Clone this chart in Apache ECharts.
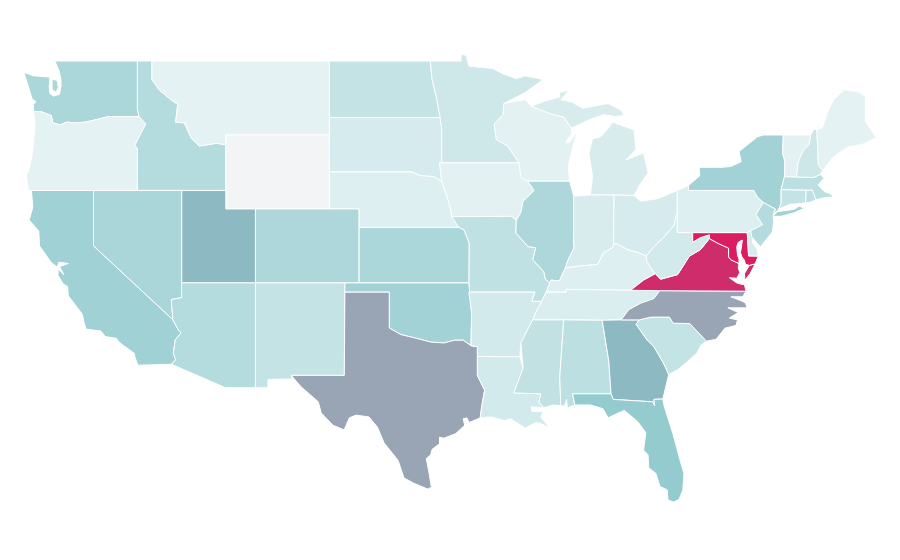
<!DOCTYPE html>
<html><head><meta charset="utf-8">
<style>html,body{margin:0;padding:0;background:#fff}#c{width:900px;height:560px}</style>
<script src="https://cdn.jsdelivr.net/npm/echarts@6/dist/echarts.min.js"></script>
</head><body><div id="c"></div>
<script>
// Values per state (read from the shade of each state)
const stateNames = ['Wyoming','Montana','Oregon','Maine','Iowa','Wisconsin','Vermont','Pennsylvania','Nebraska','Kentucky','Tennessee','Michigan','Indiana','Delaware','South Dakota','Ohio','West Virginia','Arkansas','Louisiana','Minnesota','New Hampshire','North Dakota','South Carolina','New Mexico','Connecticut','Mississippi','Rhode Island','Missouri','Massachusetts','Alabama','Idaho','Arizona','New Jersey','Illinois','Colorado','Washington','Kansas','Nevada','Oklahoma','New York','California','Florida','Georgia','Utah','Texas','North Carolina','Virginia','Maryland'];
const stateValues = [0,10,10,10,11,11,11,15,15,15,17,18,18,18,20,20,21,21,21,24,25,30,30,30,30,32,33,33,35,35,40,40,40,44,44,45,45,46,50,50,52,60,70,70,80,80,90,100];
const colorStops = ['#f3f4f6','#e4f2f4','#d5ebed','#c4e3e5','#b4dbdd','#a3d2d6','#94cbcf','#8db9c2','#99a4b5','#cf2c6c','#dc1c60'];

// Shared borders, [lon, lat]
const rev = a => a.slice().reverse();
const columbia = [[-124.05,46.27],[-123.5,46.26],[-123.2,46.15],[-122.85,46.05],[-122.76,45.65],[-122.25,45.55],[-121.8,45.7],[-121.2,45.65],[-120.5,45.7],[-119.3,45.93],[-118.98,46],[-116.92,46]];
const snake = [[-116.92,46],[-116.46,45.6],[-116.85,45],[-117.2,44.45],[-117.03,44.25],[-117.03,42]];
const idMt = [[-116.05,49],[-116.05,48],[-115.55,47.43],[-114.74,46.9],[-114.3,46.65],[-114.45,45.7],[-113.86,45.65],[-113.4,44.85],[-112.85,44.4],[-111.7,44.55],[-111.05,44.48]];
const river = [[-114.63,35],[-114.27,34.46],[-114.07,34.3],[-114.47,33.92],[-114.6,33.2],[-114.45,32.85],[-114.72,32.6]];
const redRiver = [[-100,34.56],[-99.2,34.2],[-98.3,34.03],[-97.2,33.8],[-96.3,33.75],[-95.6,33.9],[-95,33.9],[-94.47,33.6]];
const sabine = [[-94.04,33.02],[-94.04,32],[-93.55,31.2],[-93.75,30.3],[-93.85,29.7]];
const riverMoKs = [[-95.77,40.58],[-95.3,40],[-94.95,39.87],[-94.6,39.15],[-94.62,37]];
const neIa = [[-96.45,42.5],[-96.1,41.7],[-95.85,41],[-95.77,40.58]];
const wiIa = [[-91.22,43.5],[-91.1,42.7],[-90.64,42.5]];
const ilIa = [[-90.64,42.5],[-90.2,42],[-90.96,41.4],[-91.1,40.8],[-91.42,40.38]];
const ilMo = [[-91.42,40.38],[-91.45,39.7],[-90.6,38.95],[-90.1,38.9],[-90.3,38.25],[-89.55,37.6],[-89.45,37.2],[-89.15,37]];
const arMs = [[-90.3,35],[-90.4,34.85],[-91.1,33.75],[-91.17,33]];
const laMs = [[-91.17,33],[-90.95,32.4],[-91.57,31.05],[-89.75,31],[-89.87,30.55],[-89.55,30.25]];
const ohioIlKy = [[-89.15,37],[-89.05,37.15],[-88.5,37.1],[-88.1,37.8]];
const ohioInKy = [[-88.1,37.8],[-87.25,37.9],[-85.9,38],[-85.5,38.65],[-84.9,38.9],[-84.82,39.1]];
const ohioOhKy = [[-84.82,39.1],[-84.55,39.1],[-83.9,38.8],[-83.2,38.65],[-82.62,38.45]];
const ohioOhWv = [[-82.62,38.45],[-82.1,38.95],[-81.4,39.5],[-80.75,40.1],[-80.6,40.64]];
const ilIn = [[-87.53,41.7],[-87.53,39.35],[-87.5,38.9],[-87.9,38.25],[-88.1,37.8]];
const kyWv = [[-82.62,38.45],[-82.6,38.2],[-82.1,37.55],[-82,37.5]];
const kyVa = [[-82,37.5],[-82.8,37.15],[-83.68,36.6]];
const tnNc = [[-81.7,36.58],[-82.1,36.15],[-83,35.9],[-83.8,35.55],[-84.32,35]];
const vaWv = [[-82,37.5],[-81.65,37.2],[-80.5,37.45],[-79.7,38.45],[-78.95,38.8],[-78.35,39.4]];
const vaMd = [[-78.35,39.4],[-77.8,39.15],[-77.05,38.88],[-77.05,38.4],[-76.9,38.25],[-76.35,38.05]];
const ncSc = [[-83.1,35],[-82.3,35.15],[-81.05,35.15],[-80.8,34.82],[-79.67,34.8],[-78.55,33.85]];
const gaSc = [[-83.1,35],[-83.3,34.75],[-82.55,33.9],[-82.1,33.55],[-81.45,32.65],[-81.1,32.05]];
const wiMn = [[-92.25,46.7],[-92.3,46.1],[-92.9,45.6],[-92.75,44.75],[-92,44.4],[-91.22,43.5]];
const wiMiN = [[-90.4,46.55],[-89.1,46.15],[-88.2,45.97],[-87.7,45.38]];

const shapes = {
 Washington:[[[-122.76,49],[-117.03,49],[-117.03,46.42],...rev(columbia),[-124.07,46.65],[-123.9,46.8],[-124.15,46.95],[-124.4,47.6],[-124.7,48.38],[-124.05,48.2],[-123.1,48.14],[-122.95,48.14],[-123,47.6],[-122.95,47.25],[-122.7,47.1],[-122.3,47.2],[-122.2,47.6],[-122.2,47.97],[-122.3,48.4],[-122.58,48.95]],
  [[-122.8,48.03],[-122.45,47.95],[-122.38,47.55],[-122.55,47.32],[-122.8,47.45]]],
 Oregon:[[...columbia,...snake,[-124.4,42],[-124.55,42.84],[-124.4,43],[-124.15,43.9],[-124.05,44.7],[-123.95,45.5]]],
 Idaho:[[[-117.03,49],...idMt,[-111.05,42],...rev(snake),[-117.03,46.42]]],
 Montana:[[...idMt,[-111.05,45],[-104.05,45],[-104.05,49]]],
 Wyoming:[[[-111.05,45],[-104.05,45],[-104.05,41],[-111.05,41]]],
 NorthDakota:[[[-104.05,49],[-97.23,49],[-97.1,48],[-96.8,47],[-96.56,45.94],[-104.05,45.94]]],
 SouthDakota:[[[-104.05,45.94],[-96.56,45.94],[-96.45,45.3],[-96.45,43.5],[-96.6,43.5],[-96.45,42.5],[-97,42.75],[-97.9,42.8],[-98.5,43],[-104.05,43]]],
 Nebraska:[[[-104.05,43],[-98.5,43],[-97.9,42.8],[-97,42.75],...neIa,[-95.3,40],[-102.05,40],[-102.05,41],[-104.05,41]]],
 Iowa:[[[-96.45,43.5],...wiIa,...ilIa,[-91.73,40.6],...rev(neIa),[-96.6,43.5]]],
 Minnesota:[[[-97.23,49],[-95.15,49],[-95.15,49.38],[-94.8,49.3],[-94.6,48.72],[-93,48.6],[-92.3,48.3],[-91.4,48.05],[-90.8,48.2],[-89.6,48],[-90.8,47.3],...wiMn,[-96.45,43.5],[-96.45,45.3],[-96.56,45.94],[-96.8,47],[-97.1,48]]],
 Wisconsin:[[[-92.25,46.7],[-91.2,46.87],[-90.75,46.9],...wiMiN,[-87.65,45.1],[-87.95,44.75],[-88.02,44.55],[-87.75,44.65],[-87.25,45.25],[-87.5,44.6],[-87.7,44],[-87.9,43.3],[-87.8,42.5],...rev(wiIa),...rev(wiMn)]],
 Michigan:[[[-90.4,46.55],[-90.2,46.62],[-89.4,46.85],[-88.5,47.05],[-88.5,47.3],[-87.85,47.42],[-88.4,46.9],[-87.7,46.8],[-86.9,46.45],[-85.2,46.7],[-84.34,46.35],[-84.1,46.05],[-84.75,46],[-85.5,46.1],[-86.4,45.85],[-87.2,45.55],[-87.7,45.38],[-88.2,45.97],[-89.1,46.15]],
  [[-84.9,45.7],[-83.45,45.27],[-83.32,44.2],[-84,43.65],[-82.8,44.03],[-82.5,42.95],[-83.1,42.25],[-83.45,41.73],[-84.8,41.75],[-86.4,41.76],[-86.25,42.75],[-86.5,44],[-86.25,44.8],[-85.7,44.9],[-85.15,45.4]]],
 Illinois:[[[-90.64,42.5],[-87.8,42.5],...ilIn,...rev(ohioIlKy),...rev(ilMo),...rev(ilIa)]],
 Indiana:[[...ilIn,...ohioInKy,[-84.8,41.75],[-86.4,41.76],[-87.2,41.7]]],
 Ohio:[[[-84.8,41.75],[-83.45,41.73],[-83,41.42],[-81.85,41.55],[-80.52,42],[-80.52,40.64],...rev(ohioOhWv),...rev(ohioOhKy)]],
 Kentucky:[[...ohioIlKy,...ohioInKy,...ohioOhKy,...kyWv,...kyVa,[-88.05,36.65],[-88.05,36.5],[-89.4,36.5]]],
 Tennessee:[[[-89.4,36.5],[-88.05,36.5],[-88.05,36.65],[-83.68,36.6],...tnNc,[-85.6,34.98],[-88.2,35],[-90.3,35],[-90.1,35.4],[-89.7,36]]],
 Missouri:[[[-91.73,40.6],...ilMo,[-89.4,36.5],[-89.7,36],[-90.37,36],[-90.15,36.5],[-94.62,36.5],...rev(riverMoKs)]],
 Kansas:[[[-102.05,40],[-95.3,40],[-94.95,39.87],[-94.6,39.15],[-94.62,37],[-102.05,37]]],
 Colorado:[[[-109.05,41],[-102.05,41],[-102.05,37],[-109.05,37]]],
 Utah:[[[-114.04,42],[-111.05,42],[-111.05,41],[-109.05,41],[-109.05,37],[-114.04,37]]],
 Nevada:[[[-120,42],[-114.04,42],[-114.04,36.2],[-114.74,36.1],[-114.63,35],[-120,39]]],
 California:[[[-124.2,42],[-120,42],[-120,39],...river,[-117,32.55],[-117.2,33],[-117.25,33.2],[-117.95,33.6],[-118.25,33.78],[-118.45,34],[-119.2,34.1],[-119.5,34.4],[-120.5,34.5],[-120.65,34.9],[-120.75,35.3],[-121.7,36.3],[-121.75,36.8],[-122.05,36.95],[-122.4,37.4],[-122.4,37.75],[-122,37.45],[-122.3,37.88],[-121.7,38.05],[-122.35,38.12],[-122.45,37.85],[-122.85,38.1],[-123.65,39],[-123.7,39.8],[-124.35,40.4],[-124.1,41.1]]],
 Arizona:[[[-114.04,37],[-109.05,37],[-109.05,31.33],[-111.07,31.33],[-114.72,32.6],...rev(river),[-114.74,36.1],[-114.04,36.2]]],
 NewMexico:[[[-109.05,37],[-103,37],[-103.04,32],[-106.63,32],[-106.55,31.8],[-108.2,31.78],[-108.2,31.33],[-109.05,31.33]]],
 Oklahoma:[[[-103,37],[-94.62,37],[-94.43,35.4],[-94.47,33.6],...rev(redRiver),[-100,36.5],[-103,36.5]]],
 Texas:[[[-103,36.5],[-100,36.5],...redRiver,[-94.04,33.55],...sabine,[-94.6,29.45],[-94.75,29.7],[-95,29.65],[-94.9,29.3],[-95.5,28.85],[-96.3,28.6],[-96.6,28.65],[-96.6,28.3],[-97.1,28],[-97.2,27.7],[-97.5,27.5],[-97.35,26.9],[-97.15,25.95],[-97.4,25.85],[-98.3,26.15],[-99,26.45],[-99.4,27.4],[-100.35,28.35],[-100.8,29.2],[-101.37,29.75],[-102.24,29.85],[-102.7,29.7],[-103.05,29.05],[-103.8,29.3],[-104.6,29.97],[-104.8,30.57],[-105.96,31.38],[-106.63,32],[-103.04,32]]],
 Arkansas:[[[-94.62,36.5],[-90.15,36.5],[-90.37,36],[-89.7,36],[-90.1,35.4],...arMs,[-94.04,33.02],[-94.04,33.55],[-94.47,33.6],[-94.43,35.4]]],
 Louisiana:[[[-94.04,33.02],...laMs,[-90.4,30.3],[-90.35,30.05],[-89.6,30.05],[-89.75,29.75],[-89.15,29.15],[-89.75,29.4],[-90.1,29.45],[-90.8,29.15],[-91.8,29.65],[-92.2,29.55],[-93.1,29.75],[-93.85,29.7],...rev(sabine).slice(1)]],
 Mississippi:[[[-90.3,35],[-88.2,35],[-88.47,31.9],[-88.4,30.35],[-88.9,30.4],...rev(laMs).slice(0,5),...rev(arMs).slice(1)]],
 Alabama:[[[-88.2,35],[-85.6,34.98],[-85.15,32.75],[-85.05,31.55],[-85,31],[-87.6,31],[-87.45,30.4],[-87.95,30.25],[-88,30.7],[-88.15,30.35],[-88.4,30.35],[-88.47,31.9]]],
 Georgia:[[[-85.6,34.98],[-84.32,35],[-83.1,35],...gaSc.slice(1),[-81.4,31.05],[-81.5,30.72],[-82.1,30.7],[-82.05,30.36],[-82.2,30.57],[-84.86,30.7],[-85,31],[-85.05,31.55],[-85.15,32.75]]],
 Florida:[[[-87.6,31],[-85,31],[-84.86,30.7],[-82.2,30.57],[-82.05,30.36],[-82.1,30.7],[-81.5,30.72],[-81.4,30.3],[-80.8,28.8],[-80.3,27.3],[-80.07,26.7],[-80.15,25.8],[-80.4,25.3],[-80.75,25.15],[-81.15,25.25],[-81.2,25.8],[-81.7,26],[-81.97,26.7],[-82.45,27],[-82.5,27.7],[-82.8,27.95],[-82.65,28.9],[-83.2,29.5],[-84.1,30.1],[-84.55,29.95],[-85.2,29.7],[-85.55,30.2],[-86.4,30.4],[-87.45,30.4]]],
 SouthCarolina:[[...ncSc,[-78.9,33.65],[-79.2,33.2],[-79.9,32.7],[-80.5,32.3],[-81.1,32.05],...rev(gaSc).slice(1)]],
 NorthCarolina:[[[-81.7,36.58],[-75.87,36.55],[-76.1,36.25],[-76.9,36.25],[-76.1,36],[-75.9,35.9],[-75.8,35.65],[-77.1,35.65],[-76.4,35.4],[-77,35.1],[-76.45,35],[-76.55,34.7],[-77.3,34.55],[-77.9,33.95],...rev(ncSc),[-84.32,35],...rev(tnNc).slice(1)]],
 Virginia:[[[-83.68,36.6],[-82.8,37.15],...vaWv,...vaMd.slice(1),[-76.4,37.85],[-76.3,37.55],[-76.5,37.25],[-77,37.28],[-76.5,37],[-76.3,36.95],[-75.98,36.9],[-75.87,36.55],[-81.7,36.58]],
  [[-75.65,37.95],[-75.25,38.03],[-75.6,37.5],[-75.95,37.15],[-75.98,37.5]]],
 WestVirginia:[[[-80.6,40.64],[-80.52,40.64],[-80.52,39.72],[-79.48,39.72],[-79.48,39.2],[-78.95,39.45],[-78.35,39.6],...rev(vaWv),...rev(kyWv).slice(1),...ohioOhWv.slice(1)]],
 Maryland:[[[-79.48,39.72],[-75.79,39.72],[-75.7,38.46],[-75.05,38.45],[-75.25,38.03],[-75.65,37.95],[-75.9,38],[-76,38.25],[-76.15,38.4],[-76.25,38.65],[-76.2,38.85],[-76.15,39.15],[-76.12,39.32],[-76.4,39.2],[-76.5,38.95],[-76.45,38.5],[-76.35,38.3],...rev(vaMd),[-78.35,39.6],[-78.95,39.45],[-79.48,39.2]]],
 Delaware:[[[-75.79,39.72],[-75.55,39.83],[-75.4,39.5],[-75.45,39.2],[-75.1,38.8],[-75.05,38.45],[-75.7,38.46]]],
 Pennsylvania:[[[-80.52,42],[-79.76,42.27],[-79.76,42],[-75.35,42],[-75.1,41.65],[-74.7,41.35],[-75.2,40.7],[-74.75,40.15],[-75.55,39.83],[-75.79,39.72],[-80.52,39.72]]],
 NewYork:[[[-79.76,42],[-79.76,42.27],[-79,42.8],[-79.05,43.25],[-77.5,43.25],[-76.9,43.3],[-76.2,43.55],[-76.35,44.1],[-75.1,44.9],[-74.7,45],[-73.35,45],[-73.4,44],[-73.25,43.6],[-73.27,42.75],[-73.5,42.05],[-73.5,41.3],[-73.65,41],[-73.95,40.75],[-73.9,41],[-74.7,41.35],[-75.1,41.65],[-75.35,42]],
  [[-74.05,40.6],[-73.75,40.85],[-72.6,40.98],[-72.3,41.15],[-71.9,41.05],[-72.6,40.8],[-73.5,40.6]]],
 NewJersey:[[[-74.7,41.35],[-73.9,41],[-74.05,40.65],[-74,40.3],[-74.1,39.75],[-74.9,38.95],[-75.5,39.5],[-75.55,39.83],[-74.75,40.15],[-75.2,40.7]]],
 Connecticut:[[[-73.5,42.05],[-71.8,42.02],[-71.85,41.32],[-72.9,41.25],[-73.65,41],[-73.5,41.3]]],
 RhodeIsland:[[[-71.8,42.02],[-71.38,42.02],[-71.15,41.5],[-71.5,41.37],[-71.85,41.32]]],
 Massachusetts:[[[-73.5,42.05],[-73.27,42.75],[-72.46,42.73],[-71.3,42.7],[-70.85,42.87],[-70.6,42.65],[-71,42.3],[-70.6,41.95],[-70.1,41.8],[-70,41.65],[-70.6,41.6],[-71.15,41.5],[-71.38,42.02],[-71.8,42.02]]],
 Vermont:[[[-73.35,45],[-71.5,45],[-71.6,44.5],[-72.05,44.1],[-72.35,43.5],[-72.46,42.73],[-73.27,42.75],[-73.25,43.6],[-73.4,44]]],
 NewHampshire:[[[-71.5,45],[-71.3,45.3],[-71.08,45.3],[-70.98,43.4],[-70.7,43.07],[-70.85,42.87],[-71.3,42.7],[-72.46,42.73],[-72.35,43.5],[-72.05,44.1],[-71.6,44.5]]],
 Maine:[[[-71.08,45.3],[-70.7,45.4],[-70.3,46.35],[-69.95,46.9],[-69.25,47.45],[-68.3,47.35],[-67.8,47.07],[-67.8,45.7],[-67.45,45.3],[-67.05,44.85],[-68,44.5],[-69,44.35],[-70,43.8],[-70.7,43.07],[-70.98,43.4]]]
};

const features = Object.keys(shapes).map(k => ({
  type:'Feature',
  properties:{name:k.replace(/([a-z])([A-Z])/g,'$1 $2')},
  geometry:{type:'MultiPolygon',coordinates:shapes[k].map(r=>[r])}
}));
echarts.registerMap('USA',{type:'FeatureCollection',features});

const chart = echarts.init(document.getElementById('c'),null,{renderer:'canvas'});
chart.setOption({
  animation:false,
  backgroundColor:'#fff',
  visualMap:{show:false,min:0,max:100,inRange:{color:colorStops}},
  series:[{
    type:'map',map:'USA',silent:true,roam:false,aspectScale:0.8,
    left:24,top:54,width:852.5,height:448,
    label:{show:false},
    itemStyle:{borderColor:'#ffffff',borderWidth:1},
    data:stateNames.map((n,i)=>({name:n,value:stateValues[i]}))
  }]
});
</script></body></html>
